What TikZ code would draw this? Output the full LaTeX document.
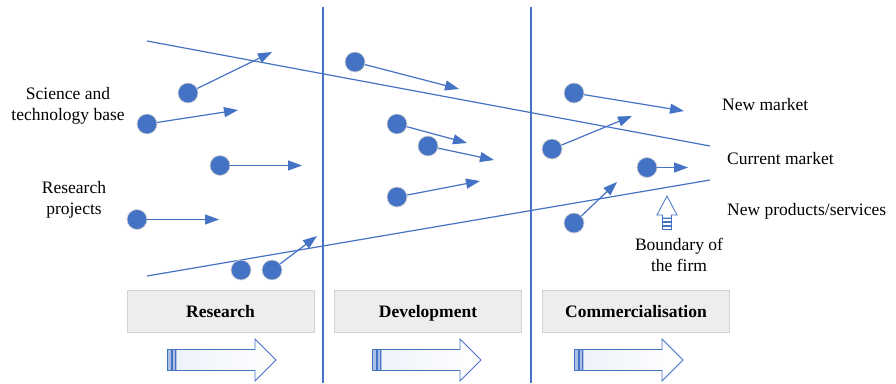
\documentclass[tikz,border=0pt]{standalone}
\usepackage{fontspec}
\setmainfont{Liberation Serif}
\usetikzlibrary{arrows.meta}
\definecolor{ofblue}{HTML}{4472C4}
\definecolor{boxgray}{HTML}{EDEDED}
\definecolor{boxline}{HTML}{D3D3D3}

\tikzset{
  dot/.style={circle,fill=ofblue,draw=gray!35,line width=0.7pt,minimum size=20pt,inner sep=0pt},
  flow/.style={ofblue,line width=1.2pt,-{Triangle[length=14pt,width=10pt]}},
  edge/.style={ofblue,line width=1.2pt},
  lbl/.style={font=\fontsize{17.5}{21}\selectfont,align=center,inner sep=0pt},
  stage/.style={draw=boxline,fill=boxgray,line width=1pt,minimum width=187pt,minimum height=42pt,
    inner sep=0pt,text height=13pt,text depth=0pt,font=\fontsize{17.5}{21}\selectfont\bfseries},
  fat/.pic={
    \shade[left color=ofblue!9,right color=white,draw=ofblue,line width=0.8pt]
      (9,-10.5) -- (88,-10.5) -- (88,-21) -- (109,0) -- (88,21) -- (88,10.5) -- (9,10.5) -- cycle;
    \filldraw[fill=ofblue!45,draw=ofblue,line width=0.6pt] (0,-10.5) rectangle (4,10.5);
    \filldraw[fill=ofblue!45,draw=ofblue,line width=0.6pt] (5,-10.5) rectangle (8,10.5);
  }
}

\begin{document}
\begin{tikzpicture}[x=1pt,y=-1pt]
  \useasboundingbox (0,0) rectangle (896,383);

  % phase borders
  \draw[edge] (323,7) -- (323,383);
  \draw[edge] (531,7) -- (531,383);

  % market lines
  \coordinate (cm1) at (147,41);
  \coordinate (cm2) at (710,146);
  \coordinate (np1) at (147,276);
  \coordinate (np2) at (710,180);
  \draw[edge] (cm1) -- (cm2);
  \draw[edge] (np1) -- (np2);

  % research
  \node[dot] (r1) at (188,93) {};
  \node[dot] (r2) at (147,124) {};
  \node[dot] (r3) at (220,165.5) {};
  \node[dot] (r4) at (137,219.5) {};
  \node[dot] (r5) at (241,270) {};
  \node[dot] (r6) at (272,270) {};
  \coordinate (t1) at (272,52);
  \coordinate (t2) at (238,110);
  \coordinate (t3) at (302,165.5);
  \coordinate (t4) at (219,219.5);
  \coordinate (t6) at (317,236);
  \draw[flow] (r1) -- (t1);
  \draw[flow] (r2) -- (t2);
  \draw[flow] (r3) -- (t3);
  \draw[flow] (r4) -- (t4);
  \draw[flow] (r6) -- (t6);

  % development
  \node[dot] (d1) at (355,62) {};
  \node[dot] (d2) at (397,124) {};
  \node[dot] (d3) at (428,146) {};
  \node[dot] (d4) at (397,197) {};
  \coordinate (u1) at (459,89);
  \coordinate (u2) at (467,143);
  \coordinate (u3) at (494,160);
  \coordinate (u4) at (480,181);
  \draw[flow] (d1) -- (u1);
  \draw[flow] (d2) -- (u2);
  \draw[flow] (d3) -- (u3);
  \draw[flow] (d4) -- (u4);

  % commercialisation
  \node[dot] (c1) at (574,93) {};
  \node[dot] (c2) at (552,149) {};
  \node[dot] (c3) at (647,167.5) {};
  \node[dot] (c4) at (574,223) {};
  \coordinate (v1) at (684,111);
  \coordinate (v2) at (632,116);
  \coordinate (v3) at (688,167.5);
  \coordinate (v4) at (617,182);
  \draw[flow] (c1) -- (v1);
  \draw[flow] (c2) -- (v2);
  \draw[flow] (c3) -- (v3);
  \draw[flow] (c4) -- (v4);

  % labels
  \node[lbl] (sci) at (68,106) {Science and\\technology base};
  \node[lbl] (proj) at (74,200) {Research\\projects};
  \node[lbl,anchor=west] (newm) at (722,105) {New market};
  \node[lbl,anchor=west] (curm) at (727,159) {Current market};
  \node[lbl,anchor=west] (newp) at (727,211) {New products/services};
  \node[lbl] (bound) at (679,255) {Boundary of\\the firm};

  % boundary arrow
  \filldraw[fill=white,draw=ofblue,line width=0.8pt]
    (667,196) -- (677,215) -- (671.5,215) -- (671.5,218) -- (662.5,218) -- (662.5,215) -- (657,215) -- cycle;
  \draw[ofblue,line width=0.8pt] (662.5,218) rectangle (671.5,221);
  \draw[ofblue,line width=0.8pt] (662.5,222.5) rectangle (671.5,225);
  \draw[ofblue,line width=0.8pt] (662.5,226.5) rectangle (671.5,229);

  % stages
  \node[stage] (res) at (220.5,311) {Research};
  \node[stage] (dev) at (428,311) {Development};
  \node[stage] (com) at (636,311) {Commercialisation};
  \pic at (167,360) {fat};
  \pic at (372,360) {fat};
  \pic at (574,360) {fat};
\end{tikzpicture}
\end{document}
